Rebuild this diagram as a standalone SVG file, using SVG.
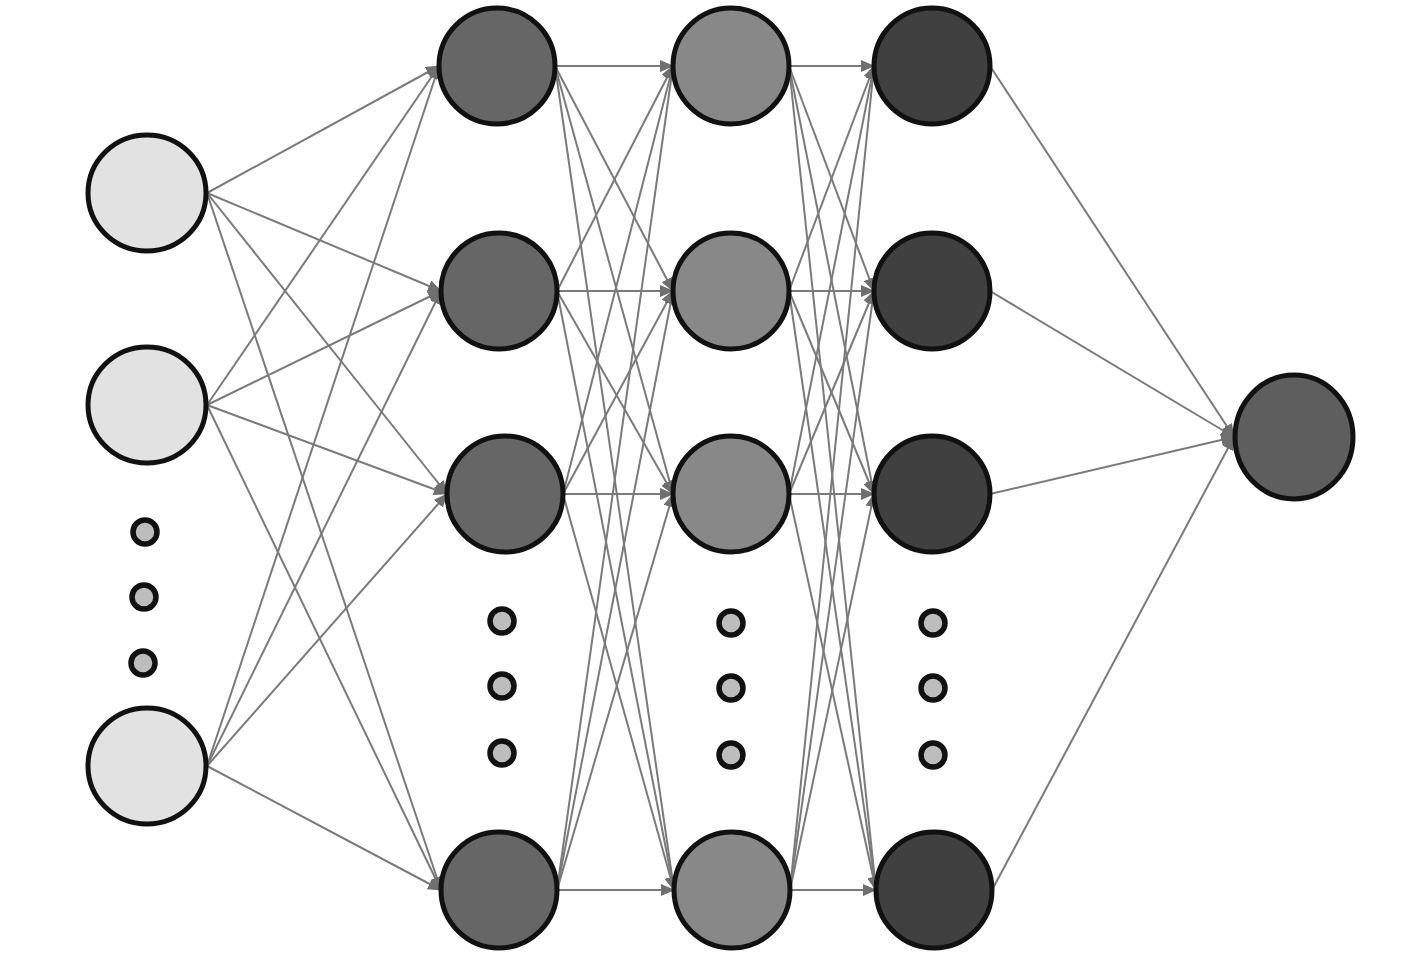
<svg xmlns="http://www.w3.org/2000/svg" width="1417" height="964" viewBox="0 0 1417 964">
<defs>
<marker id="arr" viewBox="0 0 14 12" refX="13" refY="6" markerWidth="14" markerHeight="12" markerUnits="userSpaceOnUse" orient="auto">
<path d="M0,0 L14,6 L0,12 Z" fill="#6f6f6f"/>
</marker>
<style>
.e{stroke:#7a7a7a;stroke-width:2;fill:none;marker-end:url(#arr)}
.n{stroke:#111;stroke-width:5}
.in{fill:#e2e2e2}
.h1{fill:#666}
.h2{fill:#888}
.h3{fill:#404040}
.out{fill:#5e5e5e}
.dot{fill:#bdbdbd;stroke:#111;stroke-width:5.5}
</style>
</defs>
<rect width="1417" height="964" fill="#fff"/>
<g id="connectors">
<line class="e" x1="207" y1="193" x2="439" y2="66"/>
<line class="e" x1="207" y1="193" x2="441" y2="291"/>
<line class="e" x1="207" y1="193" x2="447" y2="494"/>
<line class="e" x1="207" y1="193" x2="441" y2="890"/>
<line class="e" x1="207" y1="405" x2="439" y2="66"/>
<line class="e" x1="207" y1="405" x2="441" y2="291"/>
<line class="e" x1="207" y1="405" x2="447" y2="494"/>
<line class="e" x1="207" y1="405" x2="441" y2="890"/>
<line class="e" x1="207" y1="766" x2="439" y2="66"/>
<line class="e" x1="207" y1="766" x2="441" y2="291"/>
<line class="e" x1="207" y1="766" x2="447" y2="494"/>
<line class="e" x1="207" y1="766" x2="441" y2="890"/>
<line class="e" x1="555" y1="66" x2="673" y2="66"/>
<line class="e" x1="555" y1="66" x2="673" y2="291"/>
<line class="e" x1="555" y1="66" x2="673" y2="494"/>
<line class="e" x1="555" y1="66" x2="674" y2="890"/>
<line class="e" x1="557" y1="291" x2="673" y2="66"/>
<line class="e" x1="557" y1="291" x2="673" y2="291"/>
<line class="e" x1="557" y1="291" x2="673" y2="494"/>
<line class="e" x1="557" y1="291" x2="674" y2="890"/>
<line class="e" x1="563" y1="494" x2="673" y2="66"/>
<line class="e" x1="563" y1="494" x2="673" y2="291"/>
<line class="e" x1="563" y1="494" x2="673" y2="494"/>
<line class="e" x1="563" y1="494" x2="674" y2="890"/>
<line class="e" x1="557" y1="890" x2="673" y2="66"/>
<line class="e" x1="557" y1="890" x2="673" y2="291"/>
<line class="e" x1="557" y1="890" x2="673" y2="494"/>
<line class="e" x1="557" y1="890" x2="674" y2="890"/>
<line class="e" x1="789" y1="66" x2="874" y2="66"/>
<line class="e" x1="789" y1="66" x2="874" y2="291"/>
<line class="e" x1="789" y1="66" x2="874" y2="494"/>
<line class="e" x1="789" y1="66" x2="876" y2="890"/>
<line class="e" x1="789" y1="291" x2="874" y2="66"/>
<line class="e" x1="789" y1="291" x2="874" y2="291"/>
<line class="e" x1="789" y1="291" x2="874" y2="494"/>
<line class="e" x1="789" y1="291" x2="876" y2="890"/>
<line class="e" x1="789" y1="494" x2="874" y2="66"/>
<line class="e" x1="789" y1="494" x2="874" y2="291"/>
<line class="e" x1="789" y1="494" x2="874" y2="494"/>
<line class="e" x1="789" y1="494" x2="876" y2="890"/>
<line class="e" x1="790" y1="890" x2="874" y2="66"/>
<line class="e" x1="790" y1="890" x2="874" y2="291"/>
<line class="e" x1="790" y1="890" x2="874" y2="494"/>
<line class="e" x1="790" y1="890" x2="876" y2="890"/>
<line class="e" x1="990" y1="66" x2="1234" y2="437"/>
<line class="e" x1="990" y1="291" x2="1234" y2="437"/>
<line class="e" x1="990" y1="494" x2="1234" y2="437"/>
<line class="e" x1="992" y1="890" x2="1234" y2="437"/>
</g>
<g id="input1"><ellipse class="n in" cx="147" cy="193" rx="59" ry="58"/></g>
<g id="input2"><ellipse class="n in" cx="147" cy="405" rx="59" ry="58"/></g>
<g id="input-dots">
<circle class="dot" cx="145" cy="532" r="12"/>
<circle class="dot" cx="144" cy="597" r="12"/>
<circle class="dot" cx="143" cy="663" r="12"/>
</g>
<g id="input3"><ellipse class="n in" cx="147" cy="766" rx="59" ry="58"/></g>
<g id="h1n1"><circle class="n h1" cx="497" cy="66" r="58"/></g>
<g id="h1n2"><circle class="n h1" cx="499" cy="291" r="58"/></g>
<g id="h1n3"><circle class="n h1" cx="505" cy="494" r="58"/></g>
<g id="h1-dots">
<circle class="dot" cx="502" cy="621" r="12"/>
<circle class="dot" cx="502" cy="686" r="12"/>
<circle class="dot" cx="502" cy="753" r="12"/>
</g>
<g id="h1n4"><circle class="n h1" cx="499" cy="890" r="58"/></g>
<g id="h2n1"><circle class="n h2" cx="731" cy="66" r="58"/></g>
<g id="h2n2"><circle class="n h2" cx="731" cy="291" r="58"/></g>
<g id="h2n3"><circle class="n h2" cx="731" cy="494" r="58"/></g>
<g id="h2-dots">
<circle class="dot" cx="731" cy="623" r="12"/>
<circle class="dot" cx="731" cy="688" r="12"/>
<circle class="dot" cx="731" cy="755" r="12"/>
</g>
<g id="h2n4"><circle class="n h2" cx="732" cy="890" r="58"/></g>
<g id="h3n1"><circle class="n h3" cx="932" cy="66" r="58"/></g>
<g id="h3n2"><circle class="n h3" cx="932" cy="291" r="58"/></g>
<g id="h3n3"><circle class="n h3" cx="932" cy="494" r="58"/></g>
<g id="h3-dots">
<circle class="dot" cx="933" cy="623" r="12"/>
<circle class="dot" cx="933" cy="688" r="12"/>
<circle class="dot" cx="933" cy="755" r="12"/>
</g>
<g id="h3n4"><circle class="n h3" cx="934" cy="890" r="58"/></g>
<g id="output"><ellipse class="n out" cx="1294" cy="437" rx="59" ry="62"/></g>
</svg>
